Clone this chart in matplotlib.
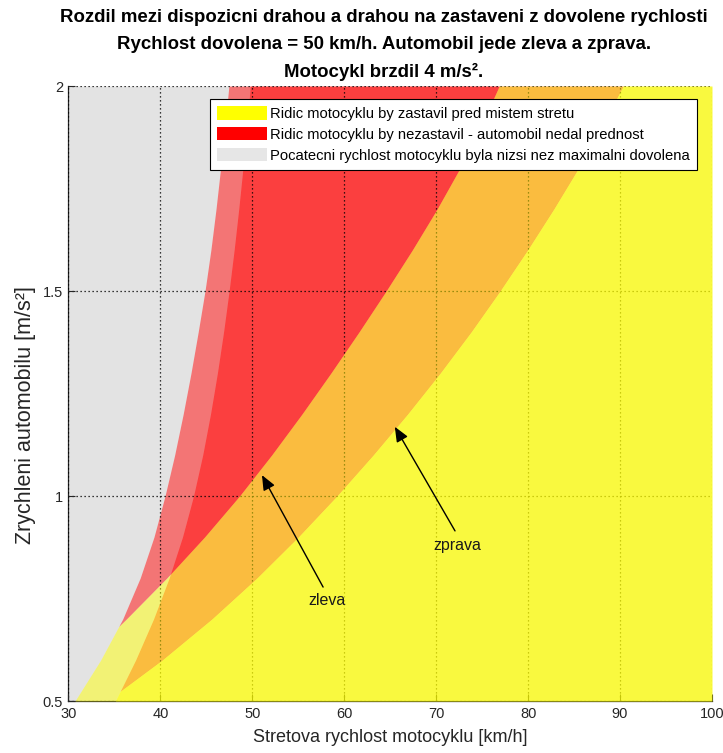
import numpy as np
import matplotlib
matplotlib.use("Agg")
import matplotlib.pyplot as plt
from matplotlib.patches import Patch

# ---------------- data ----------------
accel = [0.5, 0.6, 0.7, 0.8, 0.9, 1.0, 1.1, 1.2, 1.3, 1.4, 1.5, 1.6, 1.7, 1.8, 1.9, 2.0]
# boundary: initial speed below the limit (grey) - car from the left / right
grey_edge_left = [30.7, 33.5, 35.9, 37.8, 39.3, 40.5, 41.55, 42.48, 43.33, 44.11, 44.85, 45.49, 46.05, 46.55, 47.02, 47.45]
grey_edge_right = [35.1, 37.3, 39.25, 40.95, 42.4, 43.6, 44.6, 45.45, 46.2, 46.87, 47.47, 48.02, 48.52, 48.98, 49.4, 49.78]
# boundary: motorcycle stops (yellow) vs does not stop (red)
stop_edge_left = [27.0, 31.7, 36.3, 40.7, 44.8, 48.6, 52.1, 55.4, 58.55, 61.6, 64.55, 67.4, 70.1, 72.6, 74.85, 76.85]
stop_edge_right = [34.2, 40.2, 45.6, 50.5, 55.0, 59.2, 63.15, 66.9, 70.45, 73.8, 76.95, 79.95, 82.8, 85.5, 88.0, 90.35]

x_ticks = [30, 40, 50, 60, 70, 80, 90, 100]
y_ticks = [0.5, 1, 1.5, 2]
y_tick_labels = ["0.5", "1", "1.5", "2"]

legend_labels = [
    "Ridic motocyklu by zastavil pred mistem stretu",
    "Ridic motocyklu by nezastavil - automobil nedal prednost",
    "Pocatecni rychlost motocyklu byla nizsi nez maximalni dovolena",
]
title_lines = [
    "Rozdil mezi dispozicni drahou a drahou na zastaveni z dovolene rychlosti",
    "Rychlost dovolena = 50 km/h. Automobil jede zleva a zprava.",
    "Motocykl brzdil 4 m/s\u00b2.",
]
xlabel = "Stretova rychlost motocyklu [km/h]"
ylabel = "Zrychleni automobilu [m/s\u00b2]"
arrow_labels = ["zleva", "zprava"]
arrow_heads = [(51.05, 1.051), (65.5, 1.169)]
arrow_tails = [(57.7, 0.778), (72.05, 0.915)]
arrow_text_pos = [(58.1, 0.745), (72.3, 0.880)]

plt.rcParams["font.family"] = ["Liberation Sans", "DejaVu Sans"]

# ---------------- figure ----------------
fig = plt.figure(figsize=(7.23, 7.53), dpi=100)
ax = fig.add_axes([0.0947, 0.069, 0.8900, 0.8167])
xmin, xmax = 30, 100
ax.set_xlim(xmin, xmax)
ax.set_ylim(0.5, 2)

YELLOW = (0.975, 0.975, 0.0)
RED = (0.985, 0.0, 0.0)
GREY = (0.86, 0.86, 0.86)
ALPHA = 0.5
Z = {"grey": 1, "red": 2, "yellow": 3}

a_fine = np.linspace(accel[0], accel[-1], 1500)


def layer(grey_edge, stop_edge):
    g = np.interp(a_fine, accel, grey_edge)
    s = np.interp(a_fine, accel, stop_edge)
    m = np.maximum(g, s)
    kw = dict(linewidth=0, antialiased=False, alpha=ALPHA)
    ax.fill_betweenx(a_fine, xmin, g, color=GREY, zorder=Z["grey"], **kw)
    ax.fill_betweenx(a_fine, g, m, color=RED, zorder=Z["red"], **kw)
    ax.fill_betweenx(a_fine, m, xmax, color=YELLOW, zorder=Z["yellow"], **kw)


layer(grey_edge_left, stop_edge_left)
layer(grey_edge_right, stop_edge_right)

# grid / axes
ax.set_xticks(x_ticks)
ax.set_yticks(y_ticks)
ax.set_yticklabels(y_tick_labels)
ax.grid(True, color="black", linestyle=(0, (1, 2.2)), linewidth=0.9, zorder=4)
ax.set_axisbelow(False)
for sp in ["top", "right"]:
    ax.spines[sp].set_visible(False)
for sp in ["left", "bottom"]:
    ax.spines[sp].set_linewidth(0.9)
    ax.spines[sp].set_color("#262626")
ax.tick_params(direction="in", length=5, width=0.8, colors="#262626", labelsize=10.5, pad=4)

ax.set_xlabel(xlabel, fontsize=13, color="#262626", labelpad=6)
ax.set_ylabel(ylabel, fontsize=15.5, color="#262626")
ax.yaxis.set_label_coords(-0.05, 0.465)

# title
for i, line in enumerate(title_lines):
    fig.text(0.531, 0.977 - i * 0.0362, line, ha="center", va="center",
             fontweight="bold", fontsize=13.4, color="black")

# arrows
for lab, head, tail, tp in zip(arrow_labels, arrow_heads, arrow_tails, arrow_text_pos):
    ax.annotate("", xy=head, xytext=tail,
                arrowprops=dict(arrowstyle="-|>,head_length=0.9,head_width=0.38",
                                color="black", lw=1.0, shrinkA=0, shrinkB=0),
                zorder=5)
    ax.text(tp[0], tp[1], lab, ha="center", va="center", fontsize=11.5, color="#1a1a1a", zorder=5)

# legend
handles = [Patch(facecolor=(1, 1, 0), edgecolor="none"),
           Patch(facecolor=(1, 0, 0), edgecolor="none"),
           Patch(facecolor=(0.9, 0.9, 0.9), edgecolor="none")]
leg = ax.legend(handles, legend_labels, loc="upper right", bbox_to_anchor=(0.977, 0.979),
                borderaxespad=0, fancybox=False, framealpha=1, edgecolor="black",
                fontsize=10.6, handlelength=3.4, handleheight=1.0, handletextpad=0.2,
                labelspacing=0.42, borderpad=0.5)
leg.get_frame().set_linewidth(0.8)
leg.set_zorder(10)

fig.savefig("out.png", dpi=100, facecolor="white")
